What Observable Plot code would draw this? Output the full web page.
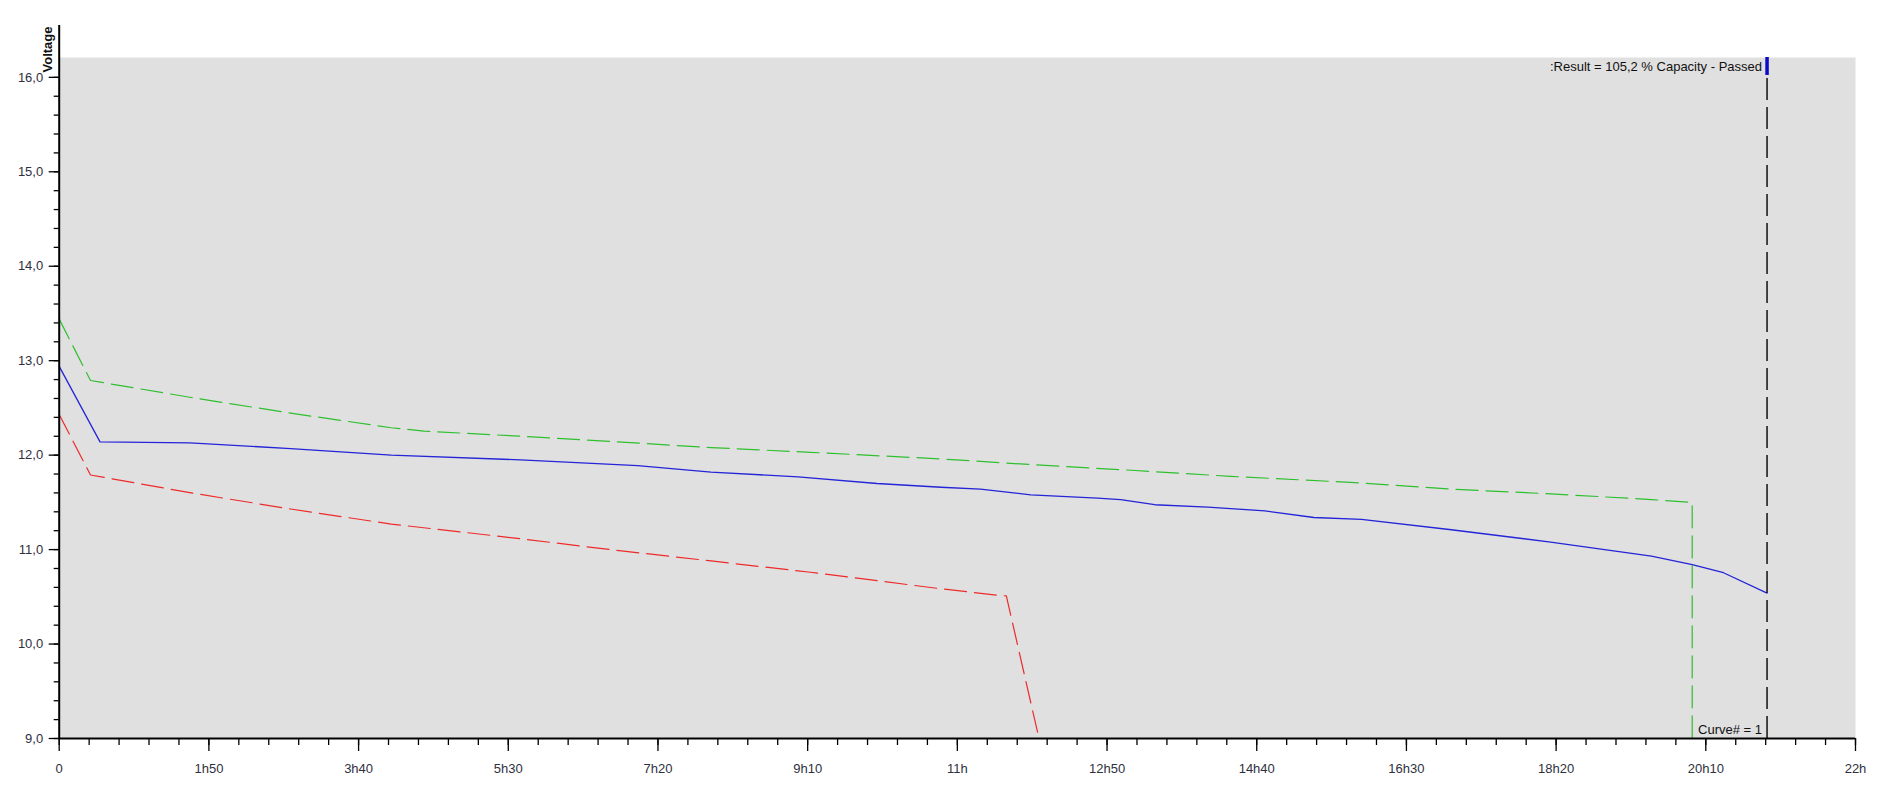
<!DOCTYPE html>
<html>
<head>
<meta charset="utf-8">
<script src="https://cdn.jsdelivr.net/npm/d3@7"></script>
<script src="https://cdn.jsdelivr.net/npm/@observablehq/plot@0.6"></script>
<style>
  html, body { margin: 0; padding: 0; background: #ffffff; }
  svg { display: block; }
</style>
</head>
<body>
<script>
// ---- Data (time in minutes, voltage in V) ----
const blueT = [0, 30, 96, 170, 244, 339, 425, 479, 543, 601, 648, 677, 714, 763, 780, 805, 844, 886, 922, 957, 1023, 1096, 1170, 1200, 1223, 1255];
const blueV = [12.94, 12.14, 12.13, 12.07, 12.00, 11.95, 11.89, 11.82, 11.77, 11.70, 11.66, 11.64, 11.58, 11.545, 11.53, 11.475, 11.45, 11.41, 11.34, 11.32, 11.21, 11.08, 10.93, 10.84, 10.755, 10.54];

const greenT = [0, 23, 97, 170, 244, 268, 339, 405, 479, 552, 648, 714, 788, 861, 952, 1023, 1096, 1170, 1200, 1200];
const greenV = [13.44, 12.79, 12.61, 12.445, 12.29, 12.255, 12.20, 12.145, 12.08, 12.03, 11.96, 11.90, 11.84, 11.775, 11.71, 11.64, 11.59, 11.53, 11.50, 9.0];

const redT = [0, 23, 97, 170, 244, 339, 405, 479, 552, 648, 691, 696, 720];
const redV = [12.43, 11.79, 11.60, 11.43, 11.27, 11.115, 11.00, 10.88, 10.76, 10.585, 10.515, 10.51, 9.0];

const endTime = 1255;              // cursor / end of discharge
const resultText = ":Result = 105,2 % Capacity - Passed";
const curveText = "Curve# = 1";
const yTitle = "Voltage";

const xTicks = [0, 110, 220, 330, 440, 550, 660, 770, 880, 990, 1100, 1210, 1320];
const xTickLabels = ["0", "1h50", "3h40", "5h30", "7h20", "9h10", "11h", "12h50", "14h40", "16h30", "18h20", "20h10", "22h"];
const xMinorTicks = d3.range(0, 1321, 22);
const yTicks = [9, 10, 11, 12, 13, 14, 15, 16];
const yTickLabels = ["9,0", "10,0", "11,0", "12,0", "13,0", "14,0", "15,0", "16,0"];
const yMinorTicks = d3.range(0, 36).map(i => +(9 + i * 0.2).toFixed(1));

const xDomain = [0, 1320];
const yDomain = [9, 16.21];
const yAxisTop = 16.55;

// ---- Tables ----
const toRows = (T, V) => T.map((t, i) => ({t, v: V[i]}));
const blue = toRows(blueT, blueV);
const green = toRows(greenT, greenV);
const red = toRows(redT, redV);
const xLabel = new Map(xTicks.map((d, i) => [d, xTickLabels[i]]));
const yLabel = new Map(yTicks.map((d, i) => [d, yTickLabels[i]]));

const font = "'Liberation Sans', Arial, sans-serif";

const chart = Plot.plot({
  width: 1898,
  height: 803,
  marginLeft: 58.7,
  marginRight: 43,
  marginTop: 57,
  marginBottom: 65,
  x: {domain: xDomain},
  y: {domain: yDomain},
  style: {fontFamily: font, fontSize: "13px", background: "#ffffff", overflow: "visible"},
  marks: [
    Plot.frame({fill: "#e0e0e0", stroke: "none"}),
    // minor ticks
    Plot.axisX({ticks: xMinorTicks, tickSize: 7, tickFormat: () => "", stroke: "#000", strokeWidth: 1.3, label: null}),
    Plot.axisY({ticks: yMinorTicks, tickSize: 5, tickFormat: () => "", stroke: "#000", strokeWidth: 1.3, label: null}),
    // major ticks with labels
    Plot.axisX({ticks: xTicks, tickSize: 13, tickPadding: 12, tickFormat: d => xLabel.get(d), stroke: "#000", strokeWidth: 1.3, fill: "#2f3040", fontSize: 13, label: null}),
    Plot.axisY({ticks: yTicks, tickSize: 10, tickPadding: 6, tickFormat: d => yLabel.get(d), stroke: "#000", strokeWidth: 1.3, fill: "#2f3040", fontSize: 13, label: null}),
    // series
    Plot.line(green, {x: "t", y: "v", stroke: "#2fbf2f", strokeWidth: 1.2, strokeDasharray: "22,8"}),
    Plot.line(red, {x: "t", y: "v", stroke: "#ee2a2a", strokeWidth: 1.2, strokeDasharray: "22,8"}),
    Plot.line(blue, {x: "t", y: "v", stroke: "#2424d8", strokeWidth: 1.3}),
    // cursor line
    Plot.ruleX([endTime], {y1: yDomain[0], y2: yDomain[1], stroke: "#111", strokeWidth: 1.5, strokeDasharray: "22,7"}),
    Plot.ruleX([endTime], {y1: 16.02, y2: yDomain[1], stroke: "#0a0ac8", strokeWidth: 3.5}),
    // axis lines
    Plot.ruleY([yDomain[0]], {stroke: "#000", strokeWidth: 2, x1: xDomain[0], x2: xDomain[1]}),
    Plot.ruleX([xDomain[0]], {stroke: "#000", strokeWidth: 2, y1: yDomain[0], y2: yAxisTop}),
    // texts
    Plot.text([resultText], {x: endTime, y: yDomain[1], textAnchor: "end", lineAnchor: "middle", dx: -5, dy: 9, fill: "#111", fontSize: 13}),
    Plot.text([curveText], {x: endTime, y: yDomain[0], textAnchor: "end", lineAnchor: "middle", dx: -5, dy: -8.5, fill: "#111", fontSize: 13}),
    Plot.text([yTitle], {frameAnchor: "top-left", rotate: -90, textAnchor: "start", lineAnchor: "middle", dx: -11, dy: 15, fontWeight: "bold", fill: "#111", fontSize: 13})
  ]
});

document.body.appendChild(chart);
</script>
</body>
</html>
